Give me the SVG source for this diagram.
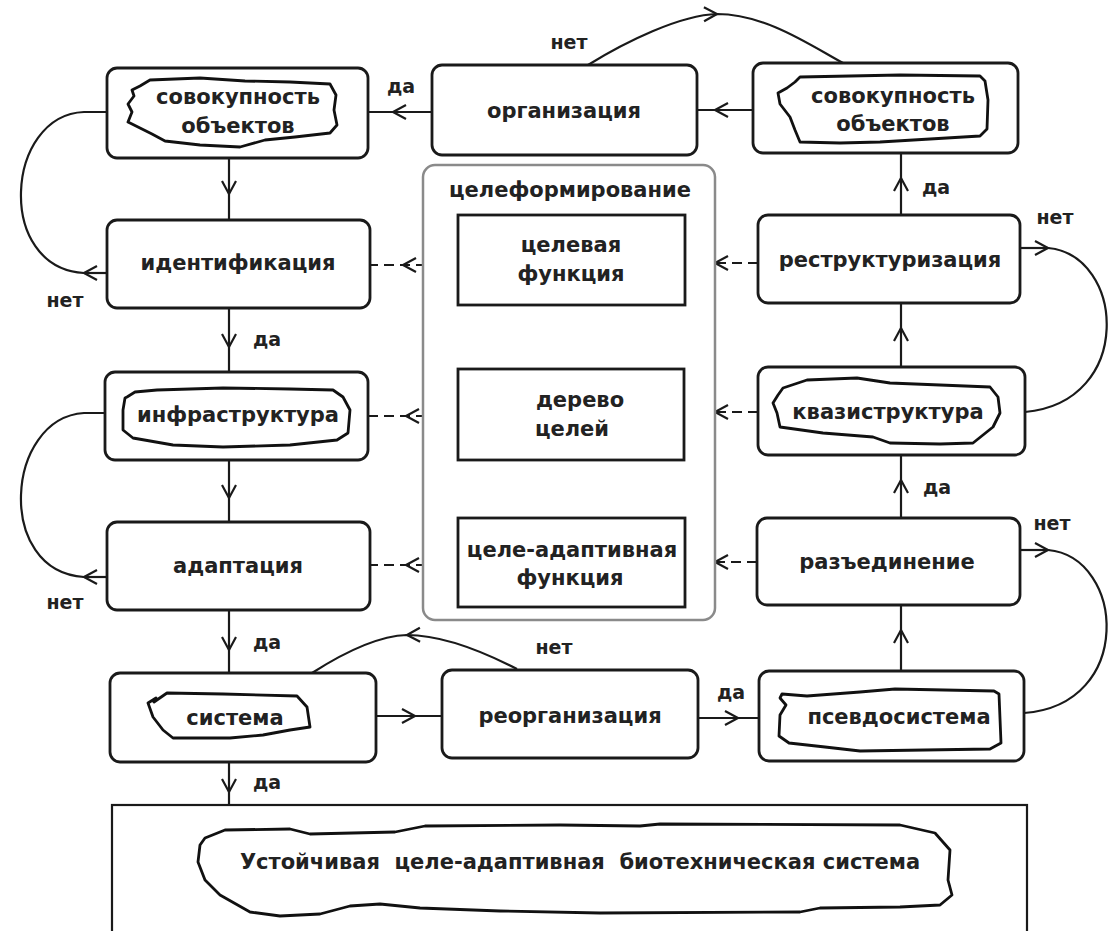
<svg xmlns="http://www.w3.org/2000/svg" width="1113" height="931" viewBox="0 0 1113 931">
<defs>
<style>
.box{fill:#fff;stroke:#1a1a1a;stroke-width:2.8}
.inner{fill:#fff;stroke:#1a1a1a;stroke-width:2.8}
.grp{fill:#fff;stroke:#8a8a8a;stroke-width:2.5}
.blob{fill:#fff;stroke:#111;stroke-width:2.8;stroke-linejoin:round}
.t{font-family:"DejaVu Sans","Liberation Sans",sans-serif;font-weight:bold;font-size:21px;fill:#222;text-anchor:middle;dominant-baseline:central}
.l{font-family:"DejaVu Sans","Liberation Sans",sans-serif;font-weight:bold;font-size:19px;fill:#222;text-anchor:middle;dominant-baseline:central}
.c{fill:none;stroke:#1a1a1a;stroke-width:2.2}
.d{stroke-dasharray:10 6}
.m{marker-mid:url(#ah)}
.e{marker-end:url(#ah)}
</style>
<marker id="ah" markerUnits="userSpaceOnUse" markerWidth="30" markerHeight="30" viewBox="-15 -15 30 30" refX="0" refY="0" orient="auto" overflow="visible"><path d="M-13,-7 L0,0 L-13,7" fill="none" stroke="#1a1a1a" stroke-width="2.2"/></marker>
</defs>
<rect x="0" y="0" width="1113" height="931" fill="#fff"/>

<g id="connectors">
<path class="c m" d="M432,112 L393,112 L368,112"/>
<path class="c m" d="M753,110 L715,110 L697,110"/>
<path class="c m" d="M588,65 C625,42 680,15 717,14 C765,14 810,45 843,63"/>
<path class="c m" d="M229,158 L229,194 L229,220"/>
<path class="c m" d="M229,308 L229,347 L229,372"/>
<path class="c m" d="M229,460 L229,498 L229,522"/>
<path class="c m" d="M229,610 L229,650 L229,673"/>
<path class="c m" d="M229,762 L229,792 L229,805"/>
<path class="c m" d="M901,215 L901,178 L901,153"/>
<path class="c m" d="M901,367 L901,328 L901,303"/>
<path class="c m" d="M901,518 L901,480 L901,455"/>
<path class="c m" d="M901,671 L901,630 L901,605"/>
<path class="c m" d="M376,716 L415,716 L442,716"/>
<path class="c m" d="M698,718 L738,718 L759,718"/>
<path class="c m" d="M517,669 C480,650 440,635 407,635 C375,636 340,655 312,673"/>
<path class="c d m" d="M458,265 L403,265 L370,265"/>
<path class="c d m" d="M758,263 L715,263 L685,263"/>
<path class="c d m" d="M458,416 L406,416 L368,416"/>
<path class="c d m" d="M758,412 L715,412 L684,412"/>
<path class="c d m" d="M458,565 L406,565 L370,565"/>
<path class="c d m" d="M757,562 L715,562 L685,562"/>
<path class="c e" d="M107,273 L84,273"/>
<path class="c" d="M84,273 C-5,268 5,115 84,112 L107,112"/>
<path class="c e" d="M107,577 L84,577"/>
<path class="c" d="M84,577 C-5,572 5,418 84,413 L105,413"/>
<path class="c e" d="M1020,248 L1048,248"/>
<path class="c" d="M1048,248 C1125,255 1135,402 1025,412"/>
<path class="c e" d="M1020,550 L1048,550"/>
<path class="c" d="M1048,550 C1125,557 1135,705 1024,713"/>
</g>

<g id="labels">
<text class="l" x="401" y="86">да</text>
<text class="l" x="569" y="42">нет</text>
<text class="l" x="936" y="187">да</text>
<text class="l" x="1055" y="217">нет</text>
<text class="l" x="267" y="339">да</text>
<text class="l" x="65" y="300">нет</text>
<text class="l" x="937" y="487">да</text>
<text class="l" x="1052" y="523">нет</text>
<text class="l" x="65" y="602">нет</text>
<text class="l" x="267" y="642">да</text>
<text class="l" x="554" y="647">нет</text>
<text class="l" x="267" y="782">да</text>
<text class="l" x="731" y="692">да</text>
</g>

<g id="n-sovokupnost-left">
<rect class="box" x="107" y="68" width="261" height="90" rx="10"/>
<path class="blob" d="M140,86 L150,80 L200,78 L245,81 L290,82 L330,84 L336,95 L334,110 L337,125 L330,133 L295,137 L265,140 L240,147 L200,145 L165,141 L152,134 L140,128 L128,122 L132,112 L128,104 L134,96 L132,90 Z"/>
<text class="t" x="238" y="97">совокупность</text>
<text class="t" x="238" y="126">объектов</text>
</g>

<g id="n-organizaciya">
<rect class="box" x="432" y="65" width="265" height="90" rx="10"/>
<text class="t" x="564" y="111">организация</text>
</g>

<g id="n-sovokupnost-right">
<rect class="box" x="753" y="63" width="265" height="90" rx="10"/>
<path class="blob" d="M795,82 L800,77 L900,75 L980,76 L985,81 L988,100 L987,129 L980,136 L930,139 L880,142 L840,143 L800,142 L795,130 L790,117 L780,104 L778,93 L787,88 Z"/>
<text class="t" x="893" y="96">совокупность</text>
<text class="t" x="893" y="124">объектов</text>
</g>

<g id="n-identifikaciya">
<rect class="box" x="107" y="220" width="263" height="88" rx="10"/>
<text class="t" x="238" y="263">идентификация</text>
</g>

<g id="n-celeformirovanie">
<rect class="grp" x="423" y="165" width="292" height="455" rx="12"/>
<text class="t" x="570" y="190">целеформирование</text>
<g id="n-celevaya-funkciya">
<rect class="inner" x="458" y="215" width="227" height="90"/>
<text class="t" x="571" y="245">целевая</text>
<text class="t" x="571" y="274">функция</text>
</g>
<g id="n-derevo-celey">
<rect class="inner" x="458" y="369" width="226" height="91"/>
<text class="t" x="580" y="400">дерево</text>
<text class="t" x="572" y="429">целей</text>
</g>
<g id="n-cele-adaptivnaya-funkciya">
<rect class="inner" x="458" y="518" width="227" height="89"/>
<text class="t" x="572" y="550">целе-адаптивная</text>
<text class="t" x="570" y="578">функция</text>
</g>
</g>

<g id="n-restrukturizaciya">
<rect class="box" x="758" y="215" width="262" height="88" rx="10"/>
<text class="t" x="890" y="260">реструктуризация</text>
</g>

<g id="n-infrastruktura">
<rect class="box" x="105" y="372" width="263" height="88" rx="10"/>
<path class="blob" d="M127,397 L135,392 L157,390 L223,388 L290,389 L333,390 L343,397 L350,410 L348,433 L337,440 L290,445 L223,447 L173,445 L133,438 L123,430 L123,410 L125,398 Z"/>
<text class="t" x="238" y="415">инфраструктура</text>
</g>

<g id="n-kvazistruktura">
<rect class="box" x="758" y="367" width="267" height="88" rx="10"/>
<path class="blob" d="M783,388 L807,380 L857,378 L890,383 L940,385 L990,387 L998,397 L1000,413 L993,427 L973,443 L940,444 L890,443 L873,437 L823,433 L780,427 L777,413 L773,403 L778,395 Z"/>
<text class="t" x="888" y="412">квазиструктура</text>
</g>

<g id="n-adaptaciya">
<rect class="box" x="107" y="522" width="263" height="88" rx="10"/>
<text class="t" x="238" y="566">адаптация</text>
</g>

<g id="n-razedinenie">
<rect class="box" x="757" y="518" width="263" height="87" rx="10"/>
<text class="t" x="887" y="562">разъединение</text>
</g>

<g id="n-sistema">
<rect class="box" x="110" y="673" width="266" height="89" rx="10"/>
<path class="blob" d="M148,703 L156,698 L154,702 L167,693 L223,694 L297,696 L307,707 L310,727 L290,730 L263,735 L230,738 L173,738 L163,730 L153,717 Z"/>
<text class="t" x="235" y="718">система</text>
</g>

<g id="n-reorganizaciya">
<rect class="box" x="442" y="670" width="256" height="88" rx="10"/>
<text class="t" x="570" y="716">реорганизация</text>
</g>

<g id="n-psevdosistema">
<rect class="box" x="759" y="671" width="265" height="90" rx="10"/>
<path class="blob" d="M782,694 L807,696 L860,692 L895,689 L994,691 L999,694 L1001,743 L990,749 L860,751 L825,747 L789,743 L779,736 L780,715 L786,705 L780,698 Z"/>
<text class="t" x="899" y="717">псевдосистема</text>
</g>

<g id="n-final">
<rect fill="#fff" stroke="#1a1a1a" stroke-width="2.2" x="112" y="805" width="915" height="140"/>
<path class="blob" d="M205,838 L225,830 L290,829 L310,834 L395,832 L425,826 L560,825 L640,826 L660,824 L900,825 L935,833 L950,850 L948,880 L952,895 L940,905 L900,907 L820,908 L800,912 L600,913 L500,911 L420,908 L380,904 L350,906 L320,914 L280,916 L250,912 L220,895 L205,880 L198,862 L200,845 Z"/>
<text class="t" x="580" y="862" xml:space="preserve">Устойчивая  целе-адаптивная  биотехническая система</text>
</g>
</svg>
